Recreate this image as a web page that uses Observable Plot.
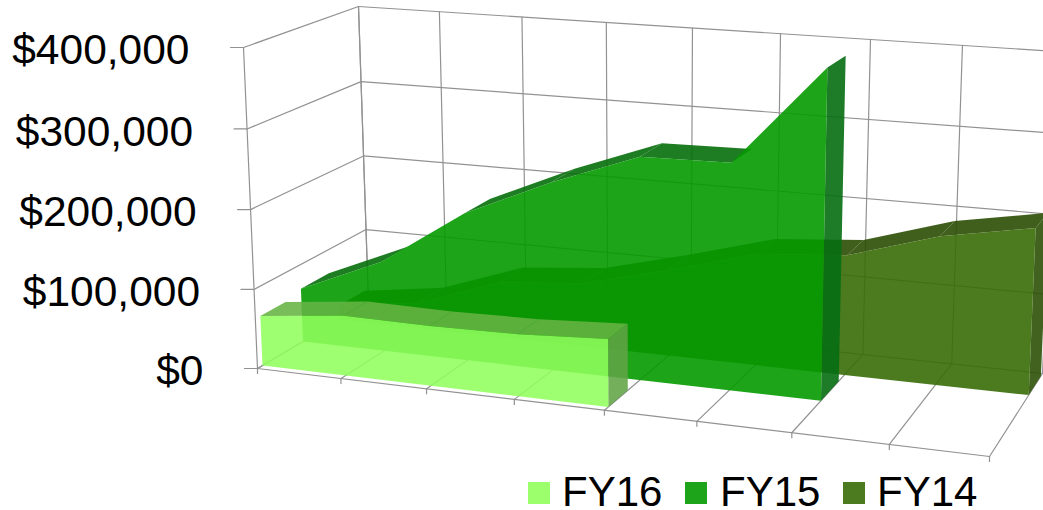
<!DOCTYPE html>
<html>
<head>
<meta charset="utf-8">
<script src="https://cdn.jsdelivr.net/npm/d3@7"></script>
<script src="https://cdn.jsdelivr.net/npm/@observablehq/plot@0.6"></script>
<style>
html,body{margin:0;padding:0;background:#fff}
#legend{position:relative;width:1043px;height:40px;font-family:"Liberation Sans",Arial,sans-serif;font-size:42px;line-height:30px;color:#000}
#legend span{position:absolute;white-space:nowrap;top:7px}
#legend i{position:absolute;width:22px;height:22px;top:12px}
</style>
</head>
<body>
<div id="chart"></div>
<div id="legend"></div>
<script>
// ---- data ----
const fy16 = [63000, 75000, 74000, 76000, 82000];
const fy15 = [69000, 115000, 187000, 235000, 276000, 278000, 400000];
const fy14 = [19000, 34000, 72000, 82000, 110000, 141000, 150000, 184000, 204000];
const valueTicks = [0, 100000, 200000, 300000, 400000];
const categoryCount = 8;
const seriesNames = ["FY14", "FY15", "FY16"];

// ---- the camera: where the 3-D box lands on the page ----
const W = 1043, H = 470, VMAX = 400000;
const box = {
  fb0: [257, 368], fb1: [989, 456], bb0: [368, 302], bb1: [1042, 373],
  ft0: [243, 47],  ft1: [1002, 101], bt0: [358, 6],  bt1: [1056, 51]
};
const lerp = (a, b, t) => a + (b - a) * t;
const lerp2 = (p, q, t) => [lerp(p[0], q[0], t), lerp(p[1], q[1], t)];
const persp = (s, k) => s / (s + (1 - s) * k);
function project(u, d, v) {
  const s = u / categoryCount;
  const rf = persp(s, 1.11), rb = persp(s, 1.09);
  const bottom = lerp2(lerp2(box.fb0, box.fb1, rf), lerp2(box.bb0, box.bb1, rb), d);
  const top = lerp2(lerp2(box.ft0, box.ft1, rf), lerp2(box.bt0, box.bt1, rb), d);
  const p = lerp2(bottom, top, persp(v / VMAX, 1.02));
  return {x: p[0], y: p[1]};
}

// ---- faces ----
const slots = {
  FY14: {values: fy14, d0: 0.74, d1: 0.97, front: "#386C05", top: "#2C4E03", side: "#2E5208", a: 0.9},
  FY15: {values: fy15, d0: 0.41, d1: 0.66, front: "#049A00", top: "#056E0A", side: "#056E12", a: 0.9},
  FY16: {values: fy16, d0: 0.045, d1: 0.27, front: "#91FF5C", top: "#65B443", side: "#61A446", a: 0.88}
};
const signedArea = pts => d3.polygonArea(pts.map(p => [p.x, p.y]));
function seriesMarks(name) {
  const {values, d0, d1, front, top, side, a} = slots[name];
  const n = values.length;
  const tops = [];
  for (let i = 0; i < n - 1; i++) {
    const q = [project(i, d0, values[i]), project(i + 1, d0, values[i + 1]),
               project(i + 1, d1, values[i + 1]), project(i, d1, values[i])];
    if (signedArea(q) > 0) q.forEach(p => tops.push({...p, face: i}));
  }
  const sidePts = [project(n - 1, d0, 0), project(n - 1, d1, 0),
                   project(n - 1, d1, values[n - 1]), project(n - 1, d0, values[n - 1])];
  const frontPts = [
    ...values.map((v, i) => project(i, d0, v)),
    project(n - 1, d0, 0), project(0, d0, 0)
  ];
  const poly = (data, fill, z) => Plot.line(data, {x: "x", y: "y", z, fill, fillOpacity: a, stroke: "none"});
  return [poly(tops, top, "face"), poly(sidePts, side), poly(frontPts, front)];
}

// ---- grid ----
const grid = [];
const seg = (id, a, b) => grid.push({...a, id}, {...b, id});
valueTicks.forEach(v => {
  seg("wb" + v, project(0, 1, v), project(categoryCount, 1, v));
  seg("wl" + v, project(0, 0, v), project(0, 1, v));
  const p = project(0, 0, v);
  seg("tk" + v, {x: p.x - 13, y: p.y}, p);
});
d3.range(categoryCount + 1).forEach(u => {
  seg("bv" + u, project(u, 1, 0), project(u, 1, VMAX));
  seg("fl" + u, project(u, 0, 0), project(u, 1, 0));
  const p = project(u, 0, 0);
  seg("tf" + u, p, {x: p.x, y: p.y + 5});
});
seg("lf", project(0, 0, 0), project(0, 0, VMAX));
seg("lb", project(0, 1, 0), project(0, 1, VMAX));
seg("fr", project(0, 0, 0), project(categoryCount, 0, 0));

const labels = valueTicks.map(v => {
  const p = project(0, 0, v);
  return {x: p.x - 54, y: p.y + 3, label: "$" + d3.format(",")(v)};
});

const chart = Plot.plot({
  width: W, height: H,
  margin: 0,
  x: {domain: [0, W], range: [0, W], axis: null},
  y: {domain: [0, H], range: [0, H], axis: null},
  style: {background: "#fff", overflow: "hidden"},
  marks: [
    Plot.line(grid, {x: "x", y: "y", z: "id", stroke: "#929292", strokeWidth: 1.2}),
    ...seriesNames.flatMap(seriesMarks),
    Plot.text(labels, {x: "x", y: "y", text: "label", textAnchor: "end", fontSize: 42.5,
      fontFamily: "Liberation Sans, Arial, sans-serif", fill: "#000"})
  ]
});
document.getElementById("chart").appendChild(chart);
chart.style.display = "block";

// ---- legend ----
const legendEntries = [
  {name: "FY16", swatch: "#9CFF6C", sx: 528, tx: 562},
  {name: "FY15", swatch: "#1DA41A", sx: 685, tx: 720},
  {name: "FY14", swatch: "#4C7A1E", sx: 843, tx: 877}
];
const lg = document.getElementById("legend");
legendEntries.forEach(e => {
  const i = document.createElement("i");
  i.style.left = e.sx + "px"; i.style.background = e.swatch;
  const s = document.createElement("span");
  s.style.left = e.tx + "px"; s.textContent = e.name;
  lg.append(i, s);
});
</script>
</body>
</html>
